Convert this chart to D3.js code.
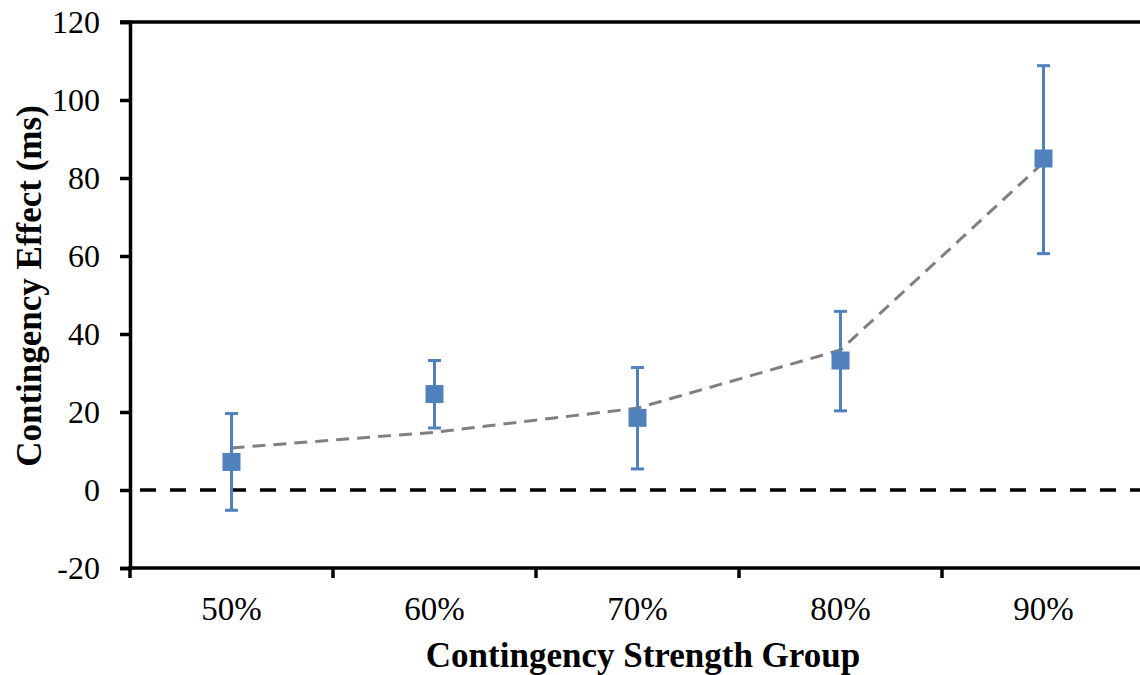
<!DOCTYPE html>
<html>
<head>
<meta charset="utf-8">
<script src="https://cdn.jsdelivr.net/npm/d3@7"></script>
<style>
  html, body { margin: 0; padding: 0; background: #fff; }
  svg { display: block; }
</style>
</head>
<body>
<svg id="chart" width="1140" height="675"></svg>
<script>
const categories = ["50%", "60%", "70%", "80%", "90%"];
const means = [7.2, 24.6, 18.5, 33.2, 85.0];
const errUpper = [19.6, 33.2, 31.4, 45.8, 108.8];
const errLower = [-5.2, 15.9, 5.4, 20.3, 60.6];
const trend = [10.8, 14.8, 21.0, 35.9, 84.0];
const yTicks = [-20, 0, 20, 40, 60, 80, 100, 120];

(function () {
const svg = d3.select("#chart");
const mLeft = 130, mRight = 1145, mTop = 22, mBottom = 568;

const x = d3.scaleBand().domain(categories).range([mLeft, mRight]).padding(0);
const y = d3.scaleLinear().domain([-20, 120]).range([mBottom, mTop]);
const cx = d => x(d) + x.bandwidth() / 2;

const font = "'Liberation Serif', 'Times New Roman', serif";
const axisW = 3.5;

// top border line
svg.append("line")
  .attr("x1", mLeft - 10).attr("x2", 1140)
  .attr("y1", y(120)).attr("y2", y(120))
  .attr("stroke", "#000").attr("stroke-width", axisW);

// zero dashed line
svg.append("line")
  .attr("x1", mLeft + 10).attr("x2", 1140)
  .attr("y1", y(0)).attr("y2", y(0))
  .attr("stroke", "#000").attr("stroke-width", 3.5)
  .attr("stroke-dasharray", "16,14");

// y axis
const yAxis = svg.append("g")
  .attr("transform", `translate(${mLeft},0)`)
  .call(d3.axisLeft(y).tickValues(yTicks).tickSize(10).tickPadding(20).tickFormat(d3.format("d")));
yAxis.select(".domain").attr("stroke", "#000").attr("stroke-width", axisW);
yAxis.selectAll(".tick line").attr("stroke", "#000").attr("stroke-width", axisW);
yAxis.selectAll(".tick text")
  .attr("x", -30)
  .attr("text-anchor", "end")
  .attr("font-family", font).attr("font-size", 32).attr("fill", "#000")
  .text(d => d < 0 ? "-" + Math.abs(d) : String(d));

// x axis (boundary ticks)
const xAxisG = svg.append("g").attr("transform", `translate(0,${mBottom})`);
xAxisG.append("line")
  .attr("x1", mLeft - axisW / 2).attr("x2", 1140)
  .attr("y1", 0).attr("y2", 0)
  .attr("stroke", "#000").attr("stroke-width", axisW);
xAxisG.selectAll("line.tk")
  .data(categories)
  .join("line").attr("class", "tk")
  .attr("x1", d => x(d)).attr("x2", d => x(d))
  .attr("y1", 0).attr("y2", 10)
  .attr("stroke", "#000").attr("stroke-width", axisW);
xAxisG.selectAll("text")
  .data(categories)
  .join("text")
  .attr("x", d => cx(d)).attr("y", 52)
  .attr("text-anchor", "middle")
  .attr("font-family", font).attr("font-size", 33).attr("fill", "#000")
  .text(d => d);

// trend line
const line = d3.line().x((d, i) => cx(categories[i])).y(d => y(d));
svg.append("path")
  .datum(trend)
  .attr("d", line)
  .attr("fill", "none")
  .attr("stroke", "#808080").attr("stroke-width", 3)
  .attr("stroke-dasharray", "13,8");

// error bars
const eb = svg.append("g");
categories.forEach((c, i) => {
  const xc = cx(c);
  eb.append("line").attr("x1", xc).attr("x2", xc)
    .attr("y1", y(errLower[i])).attr("y2", y(errUpper[i]))
    .attr("stroke", "#4F81BD").attr("stroke-width", 3);
  [errLower[i], errUpper[i]].forEach(v => {
    eb.append("line").attr("x1", xc - 6.5).attr("x2", xc + 6.5)
      .attr("y1", y(v)).attr("y2", y(v))
      .attr("stroke", "#4F81BD").attr("stroke-width", 3);
  });
});

// markers
const ms = 18;
svg.append("g").selectAll("rect")
  .data(means)
  .join("rect")
  .attr("x", (d, i) => cx(categories[i]) - ms / 2)
  .attr("y", d => y(d) - ms / 2)
  .attr("width", ms).attr("height", ms)
  .attr("fill", "#4F81BD");

// axis titles
svg.append("text")
  .attr("x", 643).attr("y", 667)
  .attr("text-anchor", "middle")
  .attr("font-family", font).attr("font-size", 35).attr("font-weight", "bold")
  .text("Contingency Strength Group");

svg.append("text")
  .attr("transform", `translate(41,286) rotate(-90)`)
  .attr("text-anchor", "middle")
  .attr("font-family", font).attr("font-size", 35).attr("font-weight", "bold")
  .text("Contingency Effect (ms)");
})();
</script>
</body>
</html>
